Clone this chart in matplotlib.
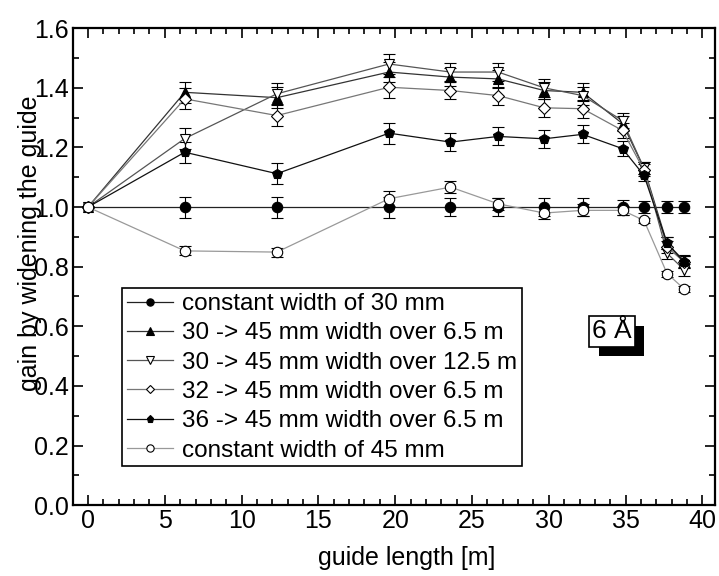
import matplotlib
matplotlib.use("Agg")
import matplotlib.pyplot as plt
import matplotlib.patheffects as pe
from matplotlib.ticker import MultipleLocator

plt.rcParams["font.family"] = ["Liberation Sans", "DejaVu Sans"]

# guide length positions [m]
length = [0, 6.3, 12.3, 19.6, 23.6, 26.7, 29.7, 32.2, 34.8, 36.2, 37.7, 38.8]

# gain values
const30 = [1.0, 1.0, 1.0, 1.0, 1.0, 1.0, 1.0, 1.0, 1.0, 1.0, 1.0, 1.0]
w30_65 = [1.0, 1.385, 1.367, 1.453, 1.436, 1.43, 1.391, 1.385, 1.28, 1.13, 0.878, 0.82]
w30_125 = [1.0, 1.23, 1.38, 1.48, 1.453, 1.453, 1.40, 1.374, 1.29, 1.13, 0.845, 0.79]
w32_65 = [1.0, 1.363, 1.307, 1.402, 1.391, 1.374, 1.333, 1.33, 1.257, 1.123, 0.866, 0.816]
w36_65 = [1.0, 1.184, 1.112, 1.248, 1.218, 1.237, 1.229, 1.244, 1.196, 1.106, 0.878, 0.816]
const45 = [1.0, 0.853, 0.849, 1.028, 1.067, 1.011, 0.98, 0.989, 0.989, 0.955, 0.777, 0.726]

# error bar half widths
err = [0.0, 0.035, 0.035, 0.035, 0.03, 0.03, 0.03, 0.03, 0.025, 0.02, 0.02, 0.02]
err45 = [0.0, 0.015, 0.015, 0.025, 0.02, 0.02, 0.02, 0.02, 0.015, 0.01, 0.01, 0.01]

labels = [
    "constant width of 30 mm",
    "30 -> 45 mm width over 6.5 m",
    "30 -> 45 mm width over 12.5 m",
    "32 -> 45 mm width over 6.5 m",
    "36 -> 45 mm width over 6.5 m",
    "constant width of 45 mm",
]

series = [
    (const30, err, "o", "black", "#222222"),
    (w30_65, err, "^", "black", "#333333"),
    (w30_125, err, "v", "white", "#555555"),
    (w32_65, err, "D", "white", "#777777"),
    (w36_65, err, "p", "black", "#111111"),
    (const45, err45, "o", "white", "#999999"),
]

fig = plt.figure(figsize=(7.19, 5.76), dpi=100)
ax = fig.add_axes([0.101, 0.123, 0.893, 0.828])

handles = []
for (vals, e, marker, face, color), label in zip(series, labels):
    c = ax.errorbar(length, vals, yerr=e, marker=marker, markersize=7.5 if marker != "D" else 6.5,
                    markerfacecolor=face, markeredgecolor="black", markeredgewidth=0.8,
                    color=color, linewidth=0.9, ecolor="black", elinewidth=0.8, capsize=4.5,
                    label=label)
    handles.append(c.lines[0])

ax.set_xlim(-1, 40.8)
ax.set_ylim(0, 1.6)
ax.xaxis.set_major_locator(MultipleLocator(5))
ax.xaxis.set_minor_locator(MultipleLocator(1))
ax.yaxis.set_major_locator(MultipleLocator(0.2))
ax.yaxis.set_minor_locator(MultipleLocator(0.1))
ax.yaxis.set_major_formatter(plt.FormatStrFormatter("%.1f"))
ax.tick_params(which="both", direction="in", top=True, right=True, labelsize=18, width=1.2)
ax.tick_params(which="major", length=7, pad=3)
ax.tick_params(which="minor", length=4)
for sp in ax.spines.values():
    sp.set_linewidth(1.6)

ax.set_xlabel("guide length [m]", fontsize=18)
ax.xaxis.set_label_coords(0.52, -0.085)
ax.set_ylabel("gain by widening the guide", fontsize=18)
ax.yaxis.set_label_coords(-0.047, 0.549)

leg = ax.legend(handles=handles, labels=labels, loc="upper left", bbox_to_anchor=(0.077, 0.455),
                borderaxespad=0, fontsize=17.5, handlelength=1.9, handletextpad=0.35,
                labelspacing=0.3, borderpad=0.2, fancybox=False, edgecolor="black",
                framealpha=1, markerscale=0.7)
leg.get_frame().set_linewidth(1.2)

t = ax.text(34.1, 0.583, "6 Å", fontsize=19, ha="center", va="center",
            bbox=dict(boxstyle="square,pad=0.12", facecolor="white", edgecolor="black", linewidth=1.2))
t.get_bbox_patch().set_path_effects([
    pe.withSimplePatchShadow(offset=(7, -7), shadow_rgbFace="black", alpha=1.0)
])

fig.savefig("out.png", dpi=100)
